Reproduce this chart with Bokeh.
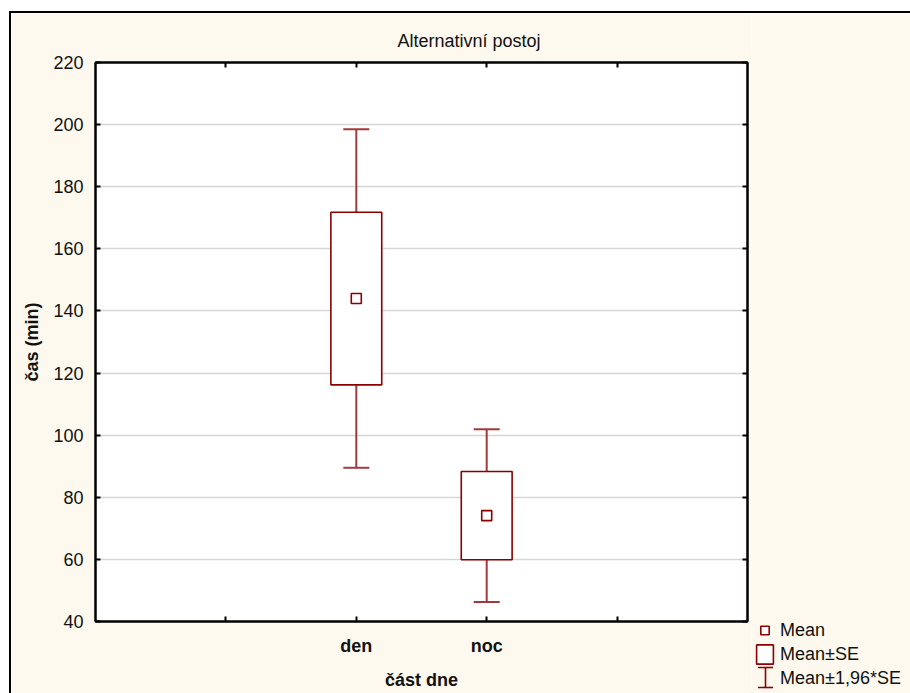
from bokeh.plotting import figure
from bokeh.layouts import row
from bokeh.models import (Range1d, LinearAxis, FixedTicker, Legend, LegendItem,
                          Whisker, TeeHead, ColumnDataSource)
from bokeh.embed import file_html
from bokeh.resources import INLINE

# ---- data ----
chart_title = "Alternativní postoj"
x_label = "část dne"
y_label = "čas (min)"
categories = ["den", "noc"]
mean_vals = [144.0, 74.1]
se_low = [116.2, 59.9]
se_high = [171.8, 88.3]
ci_low = [89.5, 46.3]
ci_high = [198.5, 101.9]
y_ticks = [40, 60, 80, 100, 120, 140, 160, 180, 200, 220]
legend_labels = ["Mean", "Mean±SE", "Mean±1,96*SE"]

FONT = "Liberation Sans"
RED = "#8B0000"
WRED = "#A33A3A"
CREAM = "#FDF9EE"
FS = "18px"

positions = [i + 2 for i in range(len(categories))]
x_ticks = [1, 2, 3, 4]
overrides = {1: "", 4: ""}
for pos, c in zip(positions, categories):
    overrides[pos] = c

src = ColumnDataSource(dict(x=positions, mean=mean_vals, se_low=se_low, se_high=se_high,
                            ci_low=ci_low, ci_high=ci_high))

p = figure(width=740, height=680, x_range=Range1d(0, 5), y_range=Range1d(40, 220),
           output_backend="svg", toolbar_location=None,
           min_border_left=84, min_border_right=4, min_border_top=49, min_border_bottom=72,
           background_fill_color="white", border_fill_color=CREAM,
           outline_line_color="black", outline_line_width=2, frame_align=False)

p.title.text = chart_title
p.title.align = "left"
p.title.offset = 302
p.title.text_font = FONT
p.title.text_font_size = FS
p.title.text_font_style = "normal"
p.title.text_color = "#111111"
p.title.standoff = 23

# axes
p.xaxis.ticker = FixedTicker(ticks=x_ticks)
p.xaxis.major_label_overrides = overrides
p.yaxis.ticker = FixedTicker(ticks=y_ticks)
for ax in (p.xaxis[0], p.yaxis[0]):
    ax.axis_line_color = "black"
    ax.axis_line_width = 2
    ax.major_tick_in = 5
    ax.major_tick_out = 0
    ax.major_tick_line_width = 2
    ax.minor_tick_line_color = None
    ax.major_label_text_font = FONT
    ax.major_label_text_font_size = FS
    ax.major_label_text_color = "#111111"
    ax.axis_label_text_font = FONT
    ax.axis_label_text_font_size = FS
    ax.axis_label_text_font_style = "bold"
    ax.axis_label_text_color = "#111111"
p.xaxis.major_label_text_font_style = "bold"
p.xaxis.axis_label = x_label
p.yaxis.axis_label = y_label
p.xaxis.major_label_standoff = 14
p.xaxis.axis_label_standoff = 11
p.yaxis.major_label_standoff = 12
p.yaxis.axis_label_standoff = 8

top_ax = LinearAxis(ticker=FixedTicker(ticks=x_ticks), major_tick_in=5, major_tick_out=0,
                    major_tick_line_width=2, minor_tick_line_color=None,
                    axis_line_width=2, major_label_overrides={t: "" for t in x_ticks},
                    major_label_standoff=0)
p.add_layout(top_ax, "above")
right_ax = LinearAxis(ticker=FixedTicker(ticks=y_ticks), major_tick_in=5, major_tick_out=0,
                      major_tick_line_width=2, minor_tick_line_color=None,
                      axis_line_width=2, major_label_overrides={t: "" for t in y_ticks},
                      major_label_standoff=0)
p.add_layout(right_ax, "right")

p.xgrid.grid_line_color = None
p.ygrid.grid_line_color = "#D6D6D6"
p.ygrid.grid_line_width = 1.5

# whiskers (mean ± 1.96*SE)
wh = Whisker(source=src, base="x", lower="ci_low", upper="ci_high", dimension="height",
             line_color=WRED, line_width=2, level="underlay",
             lower_head=TeeHead(size=26, line_color=WRED, line_width=2),
             upper_head=TeeHead(size=26, line_color=WRED, line_width=2))
p.add_layout(wh)

# boxes (mean ± SE)
p.vbar(x="x", width=0.39, bottom="se_low", top="se_high", source=src,
       fill_color="white", line_color=RED, line_width=1.6)

# means
p.scatter(x="x", y="mean", source=src, marker="square", size=10,
          fill_color="white", line_color=RED, line_width=1.6)

# ---- legend panel (right of the plot, pixel coordinates) ----
LW = 159
lf = figure(width=LW, height=680, x_range=Range1d(0, LW), y_range=Range1d(0, 680),
            output_backend="svg", toolbar_location=None, x_axis_type=None, y_axis_type=None,
            min_border=0, outline_line_color=None, frame_align=False,
            background_fill_color=CREAM, border_fill_color=CREAM)
lf.grid.visible = False
off = dict(x=[-1000], y=[-1000])
leg_mean = lf.scatter(x="x", y="y", source=ColumnDataSource(off), marker="square", size=10,
                      fill_color="white", line_color=RED, line_width=1.6)
leg_box = lf.vbar(x="x", top="y", bottom="y", width=1, source=ColumnDataSource(off),
                  fill_color="white", line_color=RED, line_width=1.6)
leg_dummy = lf.scatter(x="x", y="y", source=ColumnDataSource(off), size=0,
                       line_alpha=0, fill_alpha=0)
legend = Legend(items=[LegendItem(label=legend_labels[0], renderers=[leg_mean]),
                       LegendItem(label=legend_labels[1], renderers=[leg_box]),
                       LegendItem(label=legend_labels[2], renderers=[leg_dummy])],
                location=(3, 3), glyph_width=21, glyph_height=24, spacing=0,
                padding=0, margin=0, label_standoff=5,
                label_text_font=FONT, label_text_font_size=FS, label_text_color="#111111",
                border_line_alpha=0, background_fill_alpha=0)
lf.add_layout(legend, "center")
leg_wh = Whisker(base=14, lower=6, upper=26, dimension="height",
                 line_color=RED, line_width=1.6, level="overlay",
                 lower_head=TeeHead(size=15, line_color=RED, line_width=1.6),
                 upper_head=TeeHead(size=15, line_color=RED, line_width=1.6))
lf.add_layout(leg_wh)

layout = row(p, lf, spacing=0, margin=(11, 0, 0, 9),
             styles={"border-top": "2px solid black", "border-left": "2px solid black"})

open("out.html", "w").write(file_html(layout, INLINE))
